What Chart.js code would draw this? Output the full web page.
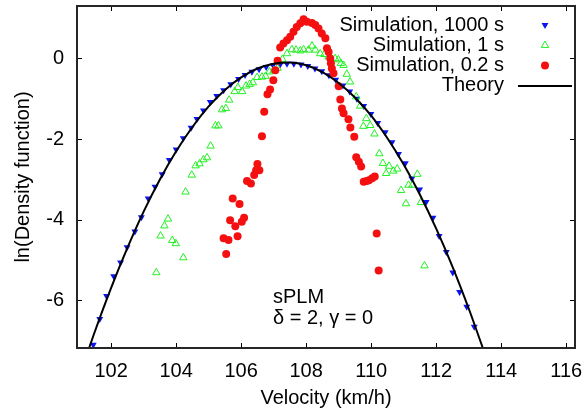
<!DOCTYPE html>
<html>
<head>
<meta charset="utf-8">
<script src="https://cdn.jsdelivr.net/npm/chart.js@4/dist/chart.umd.min.js"></script>
<style>
  body { margin: 0; background: #fff; }
</style>
</head>
<body>
<canvas id="chart" width="587" height="413"></canvas>
<script>
const xTicks = [102, 104, 106, 108, 110, 112, 114, 116];
const yTicks = [-6, -4, -2, 0];

// Simulation, 1000 s
const sim1000X = [101.45, 101.65, 101.86, 102.08, 102.29, 102.49, 102.73, 102.93, 103.14, 103.35,
  103.57, 103.79, 104.00, 104.22, 104.46, 104.64, 104.84, 105.05, 105.25, 105.46,
  105.68, 105.92, 106.12, 106.33, 106.55, 106.77, 106.98, 107.20, 107.41, 107.62,
  107.84, 108.05, 108.27, 108.48, 108.70, 108.91, 109.13, 109.34, 109.56, 109.77,
  109.99, 110.20, 110.43, 110.64, 110.84, 111.05, 111.25, 111.49, 111.69, 111.90,
  112.09, 112.31, 112.51, 112.72, 112.94, 113.17];
const sim1000Y = [-7.10, -6.46, -5.89, -5.40, -5.06, -4.68, -4.29, -3.94, -3.47, -3.18,
  -2.87, -2.52, -2.26, -1.98, -1.72, -1.50, -1.29, -1.08, -0.93, -0.79,
  -0.64, -0.51, -0.41, -0.33, -0.27, -0.21, -0.17, -0.15, -0.13, -0.13,
  -0.15, -0.19, -0.25, -0.32, -0.42, -0.53, -0.67, -0.82, -1.00, -1.18,
  -1.38, -1.60, -1.83, -2.08, -2.37, -2.60, -2.98, -3.25, -3.56, -3.95,
  -4.40, -4.80, -5.31, -5.79, -6.16, -6.65];

// Simulation, 1 s
const sim1X = [103.39, 103.52, 103.64, 103.75, 103.88, 103.99, 104.22, 104.29, 104.48, 104.60,
  104.72, 104.84, 104.95, 105.06, 105.21, 105.30, 105.41, 105.53, 105.63, 105.80,
  105.90, 106.03, 106.15, 106.26, 106.36, 106.49, 106.64, 106.75, 106.87, 107.00,
  107.12, 107.27, 107.41, 107.56, 107.69, 107.82, 107.92, 108.07, 108.18, 108.28,
  108.43, 108.56, 108.69, 108.89, 108.99, 109.07, 109.15, 109.25, 109.35, 109.54,
  109.66, 109.76, 109.85, 109.97, 110.10, 110.25, 110.36, 110.46, 110.55, 110.68,
  110.80, 110.92, 111.07, 111.15, 111.27, 111.42, 111.53, 111.64];
const sim1Y = [-5.31, -4.40, -4.15, -3.98, -4.51, -4.59, -4.94, -3.31, -2.89, -2.66,
  -2.61, -2.51, -2.46, -2.17, -1.67, -1.67, -1.27, -1.24, -1.03, -0.82,
  -0.72, -0.82, -0.68, -0.64, -0.60, -0.47, -0.46, -0.44, -0.33, -0.30,
  -0.24, -0.02, 0.12, 0.22, 0.21, 0.19, 0.22, 0.21, 0.31, 0.21,
  0.12, 0.10, 0.04, 0.00, -0.03, -0.12, -0.17, -0.39, -0.58, -0.95,
  -1.18, -1.68, -1.49, -1.66, -1.87, -2.36, -2.60, -2.85, -2.67, -2.79,
  -2.74, -3.27, -3.60, -3.14, -3.14, -2.87, -3.57, -5.14];

// Simulation, 0.2 s
const sim02X = [105.46, 105.54, 105.61, 105.66, 105.74, 105.82, 105.89, 105.95, 106.02, 106.09,
  106.18, 106.30, 106.40, 106.46, 106.50, 106.56, 106.64, 106.71, 106.81, 106.89,
  106.99, 107.05, 107.12, 107.20, 107.30, 107.41, 107.51, 107.61, 107.71, 107.82,
  107.92, 108.02, 108.18, 108.28, 108.38, 108.48, 108.59, 108.64, 108.69, 108.74,
  108.76, 108.79, 108.84, 109.00, 109.05, 109.10, 109.15, 109.30, 109.36, 109.48,
  109.54, 109.62, 109.69, 109.77, 109.86, 109.93, 110.03, 110.11, 110.17, 110.23];
const sim02Y = [-4.46, -4.85, -4.50, -4.01, -3.47, -4.16, -4.41, -3.61, -4.05, -3.95,
  -3.04, -3.10, -2.89, -2.77, -2.62, -2.77, -1.93, -1.32, -0.89, -0.77,
  -0.54, -0.29, -0.06, 0.27, 0.37, 0.45, 0.54, 0.66, 0.78, 0.87,
  0.97, 0.91, 0.88, 0.83, 0.74, 0.62, 0.50, 0.25, 0.16, 0.00,
  -0.12, -0.25, -0.37, -0.69, -1.02, -1.24, -1.36, -1.51, -1.71, -1.94,
  -2.45, -2.56, -2.68, -3.06, -3.04, -3.02, -2.97, -2.93, -4.34, -5.26];

// Theory
const theoryX = [101.25, 101.5, 102, 102.5, 103, 103.5, 104, 104.5, 105, 105.5, 106, 106.5, 107,
  107.5, 108, 108.5, 109, 109.5, 110, 110.5, 111, 111.5, 112, 112.5, 113, 113.5];
const theoryY = [-7.35, -6.77, -5.69, -4.70, -3.80, -3.00, -2.30, -1.70, -1.19, -0.78, -0.47, -0.25, -0.13,
  -0.10, -0.17, -0.34, -0.61, -0.97, -1.42, -1.98, -2.63, -3.38, -4.22, -5.16, -6.20, -7.33];

const FONT = "'Liberation Sans', Arial, sans-serif";
const FS = 20;
Chart.defaults.font.family = FONT;
Chart.defaults.color = '#000';

function pts(xs, ys) {
  return xs.map((x, i) => ({ x: x, y: ys[i] }));
}

const datasets = [
  {
    label: 'Simulation, 1000 s',
    data: pts(sim1000X, sim1000Y),
    pointStyle: 'triangle',
    rotation: 180,
    pointRadius: 4,
    backgroundColor: '#0a14f0',
    borderColor: '#0a14f0',
    borderWidth: 0,
    order: 3
  },
  {
    label: 'Simulation, 1 s',
    data: pts(sim1X, sim1Y),
    pointStyle: 'triangle',
    pointRadius: 4.3,
    backgroundColor: 'rgba(0,0,0,0)',
    borderColor: '#22f022',
    borderWidth: 1,
    order: 2
  },
  {
    label: 'Simulation, 0.2 s',
    data: pts(sim02X, sim02Y),
    pointStyle: 'circle',
    pointRadius: 4,
    backgroundColor: '#f41010',
    borderColor: '#f41010',
    borderWidth: 0,
    order: 1
  },
  {
    label: 'Theory',
    data: pts(theoryX, theoryY),
    showLine: true,
    pointRadius: 0,
    borderColor: '#000',
    borderWidth: 2,
    cubicInterpolationMode: 'monotone',
    order: 0
  }
];

// no label overflow padding, the plot box is fixed
function noPad(s) {
  s.paddingTop = 0; s.paddingBottom = 0; s.paddingLeft = 0; s.paddingRight = 0;
}

// gnuplot-like frame with inward ticks on all sides, legend and label
const framePlugin = {
  id: 'frame',
  afterDraw(chart) {
    const { ctx, chartArea: a, scales } = chart;
    const x = scales.x, y = scales.y;
    ctx.save();
    ctx.strokeStyle = '#000';
    ctx.lineWidth = 1;
    ctx.beginPath();
    xTicks.forEach(v => {
      const px = Math.round(x.getPixelForValue(v)) + 0.5;
      ctx.moveTo(px, a.bottom); ctx.lineTo(px, a.bottom - 5);
      ctx.moveTo(px, a.top); ctx.lineTo(px, a.top + 5);
    });
    yTicks.forEach(v => {
      const py = Math.round(y.getPixelForValue(v)) + 0.5;
      ctx.moveTo(a.left, py); ctx.lineTo(a.left + 5, py);
      ctx.moveTo(a.right, py); ctx.lineTo(a.right - 5, py);
    });
    ctx.stroke();
    ctx.strokeStyle = '#262626';
    ctx.lineWidth = 2;
    ctx.strokeRect(a.left, a.top, a.right - a.left, a.bottom - a.top);

    ctx.font = FS + 'px ' + FONT;
    ctx.textAlign = 'right';
    ctx.textBaseline = 'middle';
    chart.data.datasets.forEach((ds, row) => {
      const ly = 25 + row * 20.3;
      ctx.fillStyle = '#000';
      ctx.fillText(ds.label, 504, ly);
      if (ds.showLine) {
        ctx.strokeStyle = ds.borderColor;
        ctx.lineWidth = ds.borderWidth;
        ctx.beginPath();
        ctx.moveTo(518, ly); ctx.lineTo(572, ly);
        ctx.stroke();
      } else {
        ctx.fillStyle = ds.backgroundColor;
        ctx.strokeStyle = ds.borderColor;
        ctx.lineWidth = ds.borderWidth;
        Chart.helpers.drawPoint(ctx, {
          pointStyle: ds.pointStyle,
          rotation: ds.rotation || 0,
          radius: ds.pointRadius,
          borderWidth: ds.borderWidth
        }, 545, ly);
      }
    });

    ctx.fillStyle = '#000';
    ctx.textAlign = 'left';
    ctx.fillText('sPLM', 273, 297);
    ctx.fillText('\u03b4 = 2, \u03b3 = 0', 273, 318);
    ctx.restore();
  }
};

new Chart(document.getElementById('chart'), {
  type: 'scatter',
  data: { datasets: datasets },
  options: {
    responsive: false,
    animation: false,
    events: [],
    devicePixelRatio: 1,
    layout: { padding: { top: 6, right: 12, left: 0, bottom: 0 }, autoPadding: false },
    plugins: { legend: { display: false }, tooltip: { enabled: false } },
    scales: {
      x: {
        type: 'linear',
        min: 100.95,
        max: 116.27,
        afterBuildTicks: s => { s.ticks = xTicks.map(v => ({ value: v })); },
        afterFit: s => { s.height = 65; noPad(s); },
        grid: { display: false, drawTicks: false },
        border: { display: false },
        ticks: { padding: 11, font: { size: FS }, color: '#000', maxRotation: 0 },
        title: { display: true, text: 'Velocity (km/h)', font: { size: FS }, color: '#000', padding: { top: 0, bottom: 3 } }
      },
      y: {
        type: 'linear',
        min: -7.18,
        max: 1.3,
        afterBuildTicks: s => { s.ticks = yTicks.map(v => ({ value: v })); },
        afterFit: s => { s.width = 77; noPad(s); },
        grid: { display: false, drawTicks: false },
        border: { display: false },
        ticks: { padding: 13, font: { size: FS }, color: '#000' },
        title: { display: true, text: 'ln(Density function)', font: { size: FS }, color: '#000', padding: { top: 11, bottom: 0 } }
      }
    }
  },
  plugins: [framePlugin]
});
</script>
</body>
</html>
